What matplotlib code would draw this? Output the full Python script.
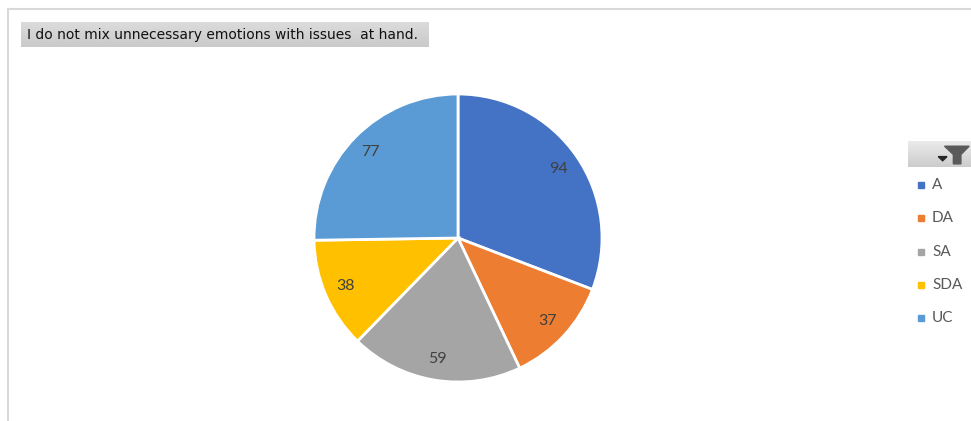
import matplotlib.pyplot as plt
import numpy as np
from matplotlib.patches import Rectangle, Polygon

# Antworten auf die Aussage
kategorien = ["A", "DA", "SA", "SDA", "UC"]
anzahl = [94, 37, 59, 38, 77]
farben = ["#4472C4", "#ED7D31", "#A5A5A5", "#FFC000", "#5B9BD5"]
titel = "I do not mix unnecessary emotions with issues  at hand."

W, H = 971, 421
fig = plt.figure(figsize=(W / 100, H / 100), dpi=100)
fig.patch.set_facecolor("white")

def px(x, y, w, h):
    # Pixelbox (von oben links) in Figure-Koordinaten
    return [x / W, 1 - (y + h) / H, w / W, h / H]

# Rahmen oben und links
fig.add_artist(plt.Line2D([8 / W, 1], [1 - 9 / H, 1 - 9 / H], color="#d9d9d9", lw=1.5))
fig.add_artist(plt.Line2D([8 / W, 8 / W], [0, 1 - 9 / H], color="#d9d9d9", lw=1.5))

# Titel im grauen Kasten mit Verlauf
tax = fig.add_axes(px(21, 22, 407, 25))
verlauf = np.linspace(0.86, 0.79, 50).reshape(-1, 1)
tax.imshow(verlauf, aspect="auto", cmap="gray", vmin=0, vmax=1, extent=[0, 1, 0, 1])
tax.set_xlim(0, 1)
tax.set_ylim(0, 1)
tax.axis("off")
tax.text(0.015, 0.5, titel, fontsize=10, color="#111111", va="center", ha="left",
         family="DejaVu Sans")

# Kreisdiagramm
ax = fig.add_axes(px(314, 94, 288, 288))
wedges, texte = ax.pie(anzahl, colors=farben, startangle=90, counterclock=False,
                       labels=[str(v) for v in anzahl], labeldistance=0.85,
                       wedgeprops=dict(edgecolor="white", linewidth=2),
                       textprops=dict(fontsize=11.5, color="#404040", family="Lato"))
for t in texte:
    t.set_ha("center")
    t.set_va("center")
ax.set_xlim(-1, 1)
ax.set_ylim(-1, 1)
ax.set_aspect("equal")

# Filter-Knopf ueber der Legende
bax = fig.add_axes(px(908, 141, 63, 26))
verlauf2 = np.linspace(0.92, 0.80, 50).reshape(-1, 1)
bax.imshow(verlauf2, aspect="auto", cmap="gray", vmin=0, vmax=1, extent=[0, 1, 0, 1])
bax.set_xlim(0, 1)
bax.set_ylim(0, 1)
bax.axis("off")
bax.add_patch(Polygon([[0.58, 0.80], [0.97, 0.80], [0.84, 0.48], [0.84, 0.12],
                       [0.72, 0.12], [0.72, 0.48]], closed=True, color="#5a5a5a"))
bax.add_patch(Polygon([[0.48, 0.40], [0.62, 0.40], [0.55, 0.24]], closed=True, color="#262626"))

# Legende
for i, (k, f) in enumerate(zip(kategorien, farben)):
    y = 185 + i * 33.3
    fig.add_artist(Rectangle((918 / W, 1 - (y + 3) / H), 6 / W, 6 / H, color=f,
                             transform=fig.transFigure))
    fig.text(932 / W, 1 - y / H, k, fontsize=11, color="#595959", va="center",
             family="Lato")

fig.savefig("out.png", dpi=100)
